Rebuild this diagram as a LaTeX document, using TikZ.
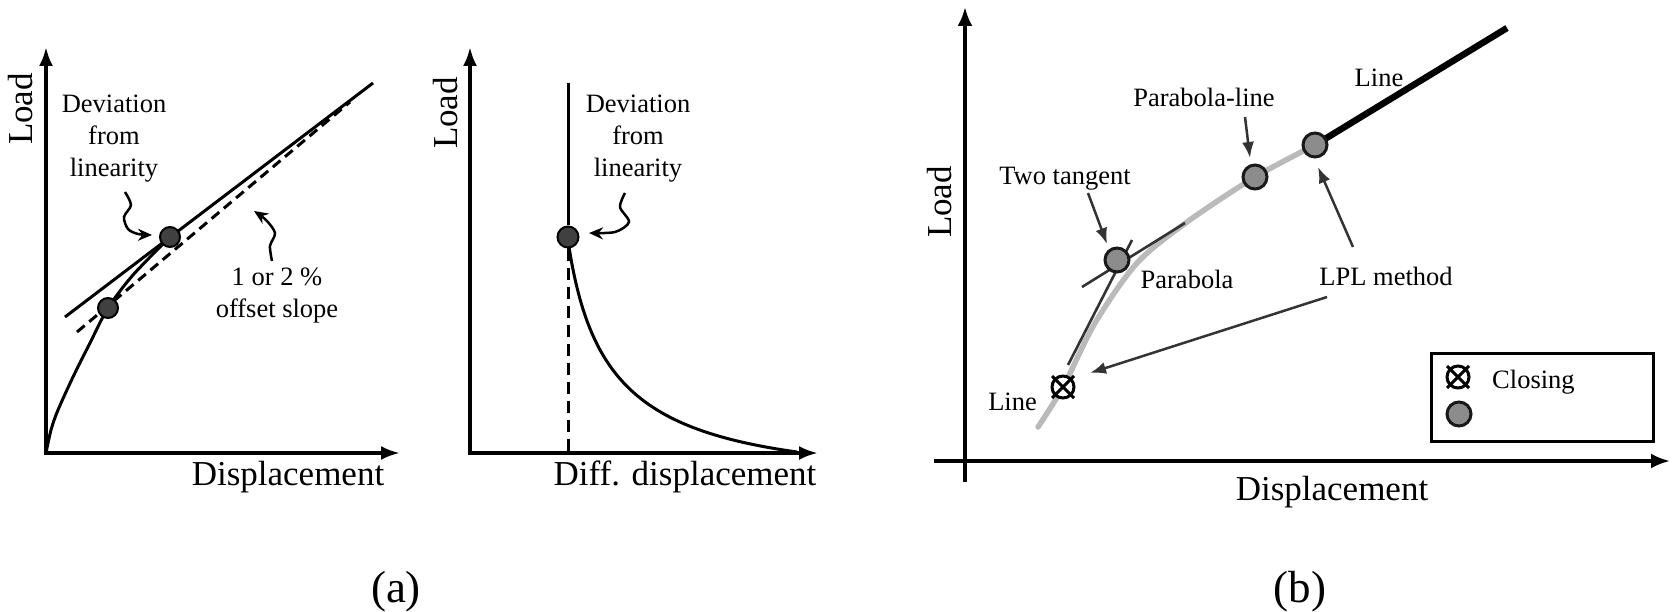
\documentclass[tikz,border=0pt]{standalone}
\usepackage{fontspec}
\setmainfont{Liberation Serif}
\usetikzlibrary{arrows.meta}
\begin{document}
\begin{tikzpicture}[x=1pt,y=-1pt,
  axis/.style={line width=3.5pt, line join=miter, {Latex[length=19pt,width=14pt]}-{Latex[length=19pt,width=14pt]}},
  curve/.style={line width=3pt},
  ann/.style={font=\rmfamily\fontsize{26.5}{32}\selectfont, align=center, inner sep=0pt},
  lab/.style={font=\rmfamily\fontsize{35}{40}\selectfont, inner sep=0pt},
  sublab/.style={font=\rmfamily\fontsize{45}{50}\selectfont, inner sep=0pt},
  adot/.style={circle, draw=black, fill=black!75, line width=2pt, minimum size=20pt, inner sep=0pt},
  bdot/.style={circle, draw=black!90, fill=black!45, line width=3pt, minimum size=24pt, inner sep=0pt},
  sq/.style={line width=2.5pt, -{Stealth[length=14pt,width=12pt]}},
  parr/.style={draw=black!80, line width=2.5pt, -{Latex[length=16pt,width=12pt]}},
  closing/.pic={\draw[line width=3pt, fill=white] (0,0) circle (11pt);
                \draw[line width=3pt] (-11,-11) -- (11,11) (-11,11) -- (11,-11);}
]
\useasboundingbox (0,0) rectangle (1677,612);

% ---------- panel a, left ----------
\draw[axis] (46,47) -- (46,453) -- (400,453);
\node[lab, rotate=90] (loadA) at (21,109) {Load};
\node[lab, anchor=base] (dispA) at (288,485) {Displacement};
\draw[curve] plot[smooth] coordinates {(46,453) (51,430) (58,410) (73,377) (90,343) (108,308) (133,275) (170,237)};
\draw[curve] (65,317) -- (373,83);
\draw[curve, dash pattern=on 10pt off 6pt] (77,332) -- (350,102);
\node[adot] (d1) at (108,308) {};
\node[adot] (d2) at (170,237) {};
\node[ann] (t1) at (114,139) {Deviation\\from\\linearity};
\draw[sq] plot[smooth] coordinates {(125,192) (131,205) (124,217) (128,229) (138,234) (152,235)};
\node[ann] (t2) at (277,296) {1 or 2 \%\\offset slope};
\draw[sq] plot[smooth] coordinates {(272,261) (270,246) (275,233) (266,220) (254,211)};

% ---------- panel a, right ----------
\draw[axis] (470,47) -- (470,453) -- (818,453);
\node[lab, rotate=90] (loadB) at (446,113) {Load};
\node[lab, anchor=base] (dispB) at (685,485) {Diff. displacement};
\node[adot, minimum size=21pt] (d3) at (568,237) {};
\draw[curve] (568,83) -- (d3.north);
\draw[curve, dash pattern=on 12pt off 7pt] (d3.south) -- (568,453);
\draw[curve] (569,247) .. controls (590,380) and (640,430) .. (797,452);
\node[ann] (t3) at (638,139) {Deviation\\from\\linearity};
\draw[sq] plot[smooth] coordinates {(625,193) (620,207) (629,222) (615,232) (589,233)};

\node[sublab, anchor=base] (suba) at (396,602) {(a)};

% ---------- panel b ----------
\draw[line width=3.5pt, -{Latex[length=19pt,width=15pt]}] (965,482) -- (965,7);
\draw[line width=3.5pt, -{Latex[length=19pt,width=15pt]}] (934,461) -- (1670,461);
\node[lab, rotate=90] (loadC) at (940,202) {Load};
\node[lab, anchor=base] (dispC) at (1332,500) {Displacement};

\draw[line width=5.5pt, draw=black!27, line cap=round] plot[smooth] coordinates {(1038,427) (1063,387) (1095,323) (1137,263) (1187,222) (1255,177) (1315,145)};
\draw[line width=2.6pt, draw=black!80] (1082,287) -- (1185,223);
\draw[line width=2.6pt, draw=black!80] (1132,240) -- (1068,365);
\draw[line width=6.5pt] (1315,145) -- (1507,28);

\node[bdot] (b1) at (1117,260) {};
\node[bdot] (b2) at (1255,177) {};
\node[bdot] (b3) at (1315,145) {};
\pic at (1063,387) {closing};

\node[ann, anchor=base] (tt) at (1065,185) {Two tangent};
\node[ann, anchor=base] (pl) at (1204,107) {Parabola-line};
\node[ann, anchor=base] (pa) at (1187,288) {Parabola};
\node[ann, anchor=base] (ln1) at (1379,87) {Line};
\node[ann, anchor=base] (lpl) at (1386,285) {LPL method};
\node[ann, anchor=base east] (ln2) at (1037,410) {Line};

\draw[parr] (1088,193) -- (1107,244);
\draw[parr] (1245,117) -- (1250,158);
\draw[parr] (1353,247) -- (1318,167);
\draw[parr] (1327,297) -- (1090,373);

\draw[line width=3pt] (1431,353) rectangle (1653,441);
\pic at (1458,377) {closing};
\node[bdot] (lg) at (1459,414) {};
\node[ann, anchor=base west] (cl) at (1492,388) {Closing};

\node[sublab, anchor=base] (subb) at (1300,602) {(b)};
\end{tikzpicture}
\end{document}
